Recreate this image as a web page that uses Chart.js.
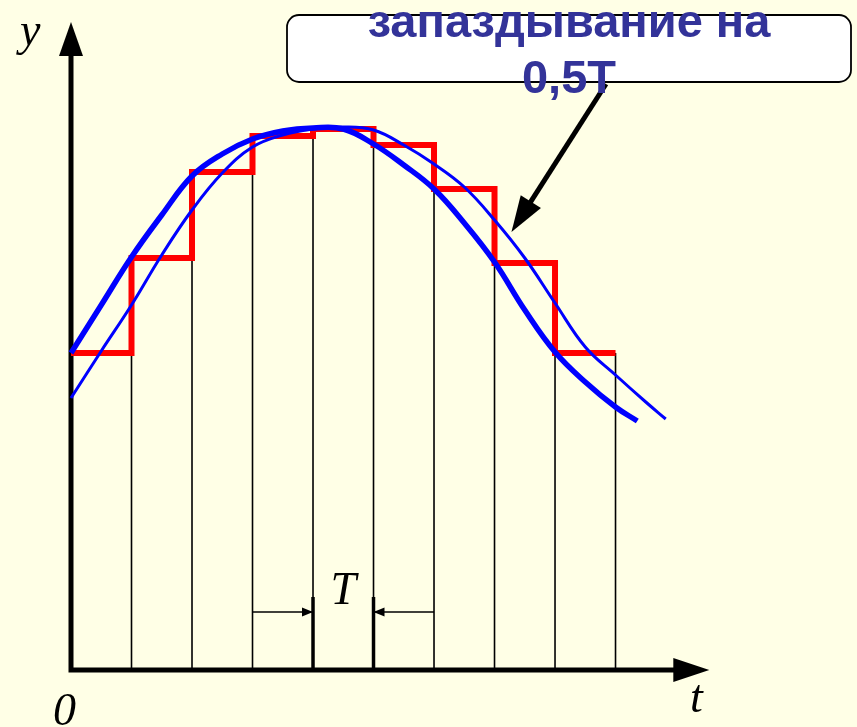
<!DOCTYPE html>
<html>
<head>
<meta charset="utf-8">
<script src="https://cdn.jsdelivr.net/npm/chart.js@4.4.1/dist/chart.umd.min.js"></script>
<style>
  html, body { margin: 0; padding: 0; background: #FFFFE6; }
  #wrap { width: 857px; height: 727px; }
</style>
</head>
<body>
<div id="wrap"><canvas id="c" width="857" height="727"></canvas></div>
<script>
// t in units of the sampling period T, y in arbitrary units
const sampleTimes = [0, 1, 2, 3, 4, 5, 6, 7, 8, 9];
const heldLevels = [3.17, 4.12, 4.98, 5.34, 5.41, 5.25, 4.81, 4.07, 3.17, 3.17];

// original continuous signal (thick blue)
const signalT = [0, 0.5, 1, 1.5, 2, 2.5, 3, 3.5, 4, 4.5, 5, 5.5, 6, 6.5, 7, 7.5, 8, 8.5, 9, 9.36];
const signalY = [3.17, 3.65, 4.13, 4.55, 4.94, 5.16, 5.31, 5.39, 5.42, 5.41, 5.26, 5.05, 4.81, 4.47, 4.08, 3.60, 3.18, 2.88, 2.63, 2.49];

// signal delayed by 0.5T (thin blue)
const delayedT = [0, 0.5, 1, 1.5, 2, 2.5, 3, 3.5, 4, 4.5, 5, 5.5, 6, 6.5, 7, 7.5, 8, 8.5, 9, 9.5, 9.83];
const delayedY = [2.72, 3.19, 3.65, 4.15, 4.60, 4.97, 5.23, 5.35, 5.41, 5.43, 5.40, 5.25, 5.06, 4.83, 4.50, 4.12, 3.67, 3.23, 2.95, 2.68, 2.51];

const calloutLines = ['запаздывание на', '0,5T'];
const arrowTarget = { t: 7.28, y: 4.38 };
const periodMarks = [4, 5];

const toPoints = (xs, ys) => xs.map((x, i) => ({ x, y: ys[i] }));

function arrowHead(ctx, x1, y1, x2, y2, len, half) {
  const a = Math.atan2(y2 - y1, x2 - x1);
  ctx.beginPath();
  ctx.moveTo(x2, y2);
  ctx.lineTo(x2 - len * Math.cos(a) + half * Math.sin(a), y2 - len * Math.sin(a) - half * Math.cos(a));
  ctx.lineTo(x2 - len * Math.cos(a) - half * Math.sin(a), y2 - len * Math.sin(a) + half * Math.cos(a));
  ctx.closePath();
  ctx.fill();
}

const sketchPlugin = {
  id: 'sketch',
  beforeDraw(chart) {
    const ctx = chart.ctx;
    ctx.save();
    ctx.fillStyle = '#FFFFE6';
    ctx.fillRect(0, 0, chart.width, chart.height);
    ctx.restore();
  },
  beforeDatasetsDraw(chart) {
    const { ctx, scales: { x, y } } = chart;
    const y0 = y.getPixelForValue(0);
    ctx.save();
    // sampling instants
    ctx.strokeStyle = '#000';
    ctx.lineWidth = 1.6;
    for (let k = 1; k < sampleTimes.length; k++) {
      const xp = x.getPixelForValue(sampleTimes[k]);
      ctx.beginPath();
      ctx.moveTo(xp, y0);
      ctx.lineTo(xp, y.getPixelForValue(heldLevels[k - 1]));
      ctx.stroke();
    }
    // period T marker
    ctx.lineWidth = 3.5;
    periodMarks.forEach(t => {
      const xp = x.getPixelForValue(t);
      ctx.beginPath();
      ctx.moveTo(xp, y0);
      ctx.lineTo(xp, y.getPixelForValue(0.73));
      ctx.stroke();
    });
    const ya = y.getPixelForValue(0.58);
    ctx.lineWidth = 1.5;
    ctx.fillStyle = '#000';
    [[3, 4], [6, 5]].forEach(([a, b]) => {
      const xa = x.getPixelForValue(a), xb = x.getPixelForValue(b);
      ctx.beginPath();
      ctx.moveTo(xa, ya);
      ctx.lineTo(xb, ya);
      ctx.stroke();
      arrowHead(ctx, xa, ya, xb, ya, 11, 4.5);
    });
    // axes
    const x0 = x.getPixelForValue(0);
    ctx.lineWidth = 5;
    ctx.beginPath();
    ctx.moveTo(x0, y0 + 2.5);
    ctx.lineTo(x0, y.top + 30);
    ctx.moveTo(x0 - 2.5, y0);
    ctx.lineTo(x.right - 30, y0);
    ctx.stroke();
    arrowHead(ctx, x0, y0, x0, y.top, 34, 12);
    arrowHead(ctx, x0, y0, x.right, y0, 36, 12);
    ctx.restore();
  },
  afterDraw(chart) {
    const { ctx, scales: { x, y } } = chart;
    ctx.save();
    // axis labels
    ctx.fillStyle = '#000';
    ctx.font = 'italic 46px "Liberation Serif", "Times New Roman", serif';
    ctx.textBaseline = 'alphabetic';
    ctx.textAlign = 'left';
    ctx.fillText('y', 20, 45);
    ctx.fillText('0', 53, 725);
    ctx.fillText('t', 690, 712);
    ctx.textAlign = 'center';
    ctx.fillText('T', (x.getPixelForValue(4) + x.getPixelForValue(5)) / 2, 604);

    // callout box
    const bx = 287, by = 15, bw = 564, bh = 67;
    ctx.beginPath();
    ctx.roundRect(bx, by, bw, bh, 12);
    ctx.fillStyle = '#FFFFFF';
    ctx.fill();
    ctx.lineWidth = 1.8;
    ctx.strokeStyle = '#000';
    ctx.stroke();

    // arrow to the delayed curve
    const tx = x.getPixelForValue(arrowTarget.t), ty = y.getPixelForValue(arrowTarget.y);
    const sx = 606, sy = 84;
    const a = Math.atan2(ty - sy, tx - sx);
    ctx.lineWidth = 5;
    ctx.beginPath();
    ctx.moveTo(sx, sy);
    ctx.lineTo(tx - 30 * Math.cos(a), ty - 30 * Math.sin(a));
    ctx.stroke();
    ctx.fillStyle = '#000';
    arrowHead(ctx, sx, sy, tx, ty, 36, 12);

    ctx.fillStyle = '#333399';
    ctx.font = 'bold 47px "Liberation Sans", Arial, sans-serif';
    ctx.textAlign = 'center';
    ctx.fillText(calloutLines[0], bx + bw / 2, 37);
    ctx.fillText(calloutLines[1], bx + bw / 2, 93);
    ctx.restore();
  }
};

new Chart(document.getElementById('c'), {
  type: 'line',
  data: {
    datasets: [
      {
        label: 'signal',
        data: toPoints(signalT, signalY),
        borderColor: '#0000FF',
        borderWidth: 5.5,
        pointRadius: 0,
        tension: 0.4,
        fill: false,
        clip: false
      },
      {
        label: 'delayed',
        data: toPoints(delayedT, delayedY),
        borderColor: '#0000FF',
        borderWidth: 3,
        pointRadius: 0,
        tension: 0.4,
        fill: false,
        clip: false
      },
      {
        label: 'hold',
        data: toPoints(sampleTimes, heldLevels),
        borderColor: '#FF0000',
        borderWidth: 6,
        pointRadius: 0,
        stepped: 'before',
        borderJoinStyle: 'miter',
        borderCapStyle: 'butt',
        fill: false,
        clip: false
      }
    ]
  },
  options: {
    responsive: false,
    animation: false,
    devicePixelRatio: 1,
    layout: { padding: { left: 71, right: 147.7, top: 22, bottom: 57 } },
    plugins: { legend: { display: false }, tooltip: { enabled: false } },
    scales: {
      x: { type: 'linear', min: 0, max: 10.55, display: false },
      y: { type: 'linear', min: 0, max: 6.48, display: false }
    }
  },
  plugins: [sketchPlugin]
});
</script>
</body>
</html>
